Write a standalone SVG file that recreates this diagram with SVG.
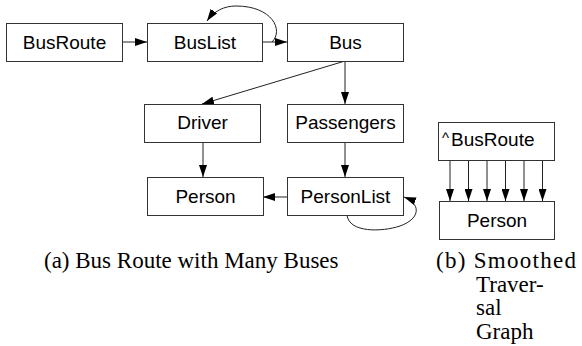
<svg xmlns="http://www.w3.org/2000/svg" width="582" height="346" viewBox="0 0 582 346">
<style>
.box{fill:#fff;stroke:#333;stroke-width:1}
.lbl{font-family:"Liberation Sans",Arial,sans-serif;font-size:19px;fill:#000;text-anchor:middle}
.cap{font-family:"Liberation Serif","Times New Roman",serif;font-size:23px;fill:#000}
.edge{fill:none;stroke:#222;stroke-width:1}
</style>
<defs>
<marker id="ah" viewBox="0 0 12 8" refX="12" refY="4" markerWidth="12" markerHeight="8" markerUnits="userSpaceOnUse" orient="auto">
<path d="M0,0 L12,4 L0,8 Z" fill="#000"/>
</marker>
</defs>
<g id="connectors">
<line class="edge" x1="122" y1="42" x2="147" y2="42" marker-end="url(#ah)"/>
<line class="edge" x1="262" y1="42" x2="287" y2="42" marker-end="url(#ah)"/>
<path class="edge" d="M272,42 C284,30 272,6 236,6 C224,6 214,11 207,21" marker-end="url(#ah)"/>
<line class="edge" x1="345" y1="61" x2="202" y2="104" marker-end="url(#ah)"/>
<line class="edge" x1="345" y1="61" x2="345" y2="104" marker-end="url(#ah)"/>
<line class="edge" x1="203" y1="142" x2="203" y2="177" marker-end="url(#ah)"/>
<line class="edge" x1="345" y1="142" x2="345" y2="177" marker-end="url(#ah)"/>
<line class="edge" x1="287" y1="197" x2="263" y2="197" marker-end="url(#ah)"/>
<path class="edge" d="M347,215 C349,233 382,232 400,226 C422,218 420,203 404,197" marker-end="url(#ah)"/>
<line class="edge" x1="450" y1="160" x2="450" y2="201" marker-end="url(#ah)"/>
<line class="edge" x1="468.5" y1="160" x2="468.5" y2="201" marker-end="url(#ah)"/>
<line class="edge" x1="487" y1="160" x2="487" y2="201" marker-end="url(#ah)"/>
<line class="edge" x1="505.5" y1="160" x2="505.5" y2="201" marker-end="url(#ah)"/>
<line class="edge" x1="524" y1="160" x2="524" y2="201" marker-end="url(#ah)"/>
<line class="edge" x1="542.5" y1="160" x2="542.5" y2="201" marker-end="url(#ah)"/>
</g>
<g id="BusRoute"><rect class="box" x="6.5" y="23.5" width="116" height="38"/><text class="lbl" x="64.5" y="49">BusRoute</text></g>
<g id="BusList"><rect class="box" x="147.5" y="23.5" width="115" height="38"/><text class="lbl" x="205" y="49">BusList</text></g>
<g id="Bus"><rect class="box" x="287.5" y="23.5" width="116" height="38"/><text class="lbl" x="345.5" y="49">Bus</text></g>
<g id="Driver"><rect class="box" x="144.5" y="104.5" width="116" height="38"/><text class="lbl" x="202.5" y="129">Driver</text></g>
<g id="Passengers"><rect class="box" x="287.5" y="104.5" width="116" height="38"/><text class="lbl" x="345.5" y="129">Passengers</text></g>
<g id="Person"><rect class="box" x="147.5" y="177.5" width="116" height="38"/><text class="lbl" x="205.5" y="203">Person</text></g>
<g id="PersonList"><rect class="box" x="287.5" y="177.5" width="116" height="38"/><text class="lbl" x="345.5" y="203">PersonList</text></g>
<g id="CaretBusRoute"><rect class="box" x="438.5" y="122.5" width="116" height="38"/><text class="lbl" x="442" y="146" style="text-anchor:start"><tspan font-size="15" dy="-3">^</tspan><tspan dy="3" dx="2">BusRoute</tspan></text></g>
<g id="PersonB"><rect class="box" x="439.5" y="201.5" width="115" height="38"/><text class="lbl" x="497" y="227">Person</text></g>
<text class="cap" x="44" y="268">(a) Bus Route with Many Buses</text>
<text class="cap" x="436" y="268" textLength="140" lengthAdjust="spacing">(b) Smoothed</text>
<text class="cap" x="476" y="292">Traver-</text>
<text class="cap" x="476" y="315">sal</text>
<text class="cap" x="476" y="339">Graph</text>
</svg>
